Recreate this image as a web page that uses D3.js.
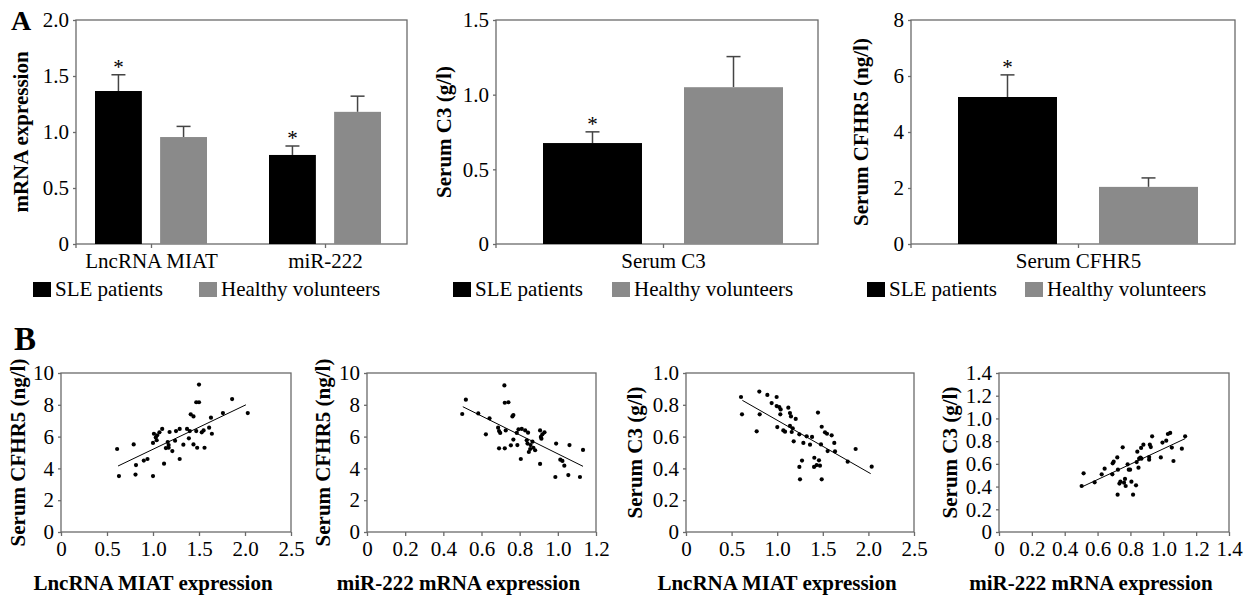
<!DOCTYPE html>
<html>
<head>
<meta charset="utf-8">
<script src="https://cdn.jsdelivr.net/npm/d3@7"></script>
<style>
  html, body { margin: 0; padding: 0; background: #fff; }
  svg { display: block; }
  text { font-family: 'Liberation Serif', 'Times New Roman', serif; fill: #000; }
</style>
</head>
<body>
<svg id="chart" width="1253" height="597"></svg>
<script>
// ---- panel A data (mean and upper error) ----
const groups = ['LncRNA MIAT', 'miR-222']
const seriesNames = ['SLE patients', 'Healthy volunteers']
const seriesColors = ['#000000', '#8a8a8a']

const mrnaSLE = [1.366, 0.795]
const mrnaSLESd = [0.145, 0.08]
const mrnaHealthy = [0.955, 1.18]
const mrnaHealthySd = [0.095, 0.14]

const c3SLE = [0.676]
const c3SLESd = [0.075]
const c3Healthy = [1.05]
const c3HealthySd = [0.205]

const cfhr5SLE = [5.25]
const cfhr5SLESd = [0.79]
const cfhr5Healthy = [2.04]
const cfhr5HealthySd = [0.32]

// ---- panel B data ----
const miatVsCfhr5 = [
  [0.61, 5.22], [0.63, 3.52], [0.79, 5.51], [0.815, 4.21], [0.81, 3.61], [0.9, 4.49],
  [0.94, 4.59], [1.0, 5.6], [1.0, 3.52], [1.01, 6.18], [1.03, 5.95], [1.04, 5.77],
  [1.045, 6.08], [1.07, 6.27], [1.1, 6.48], [1.12, 4.3], [1.14, 5.28], [1.16, 5.66],
  [1.17, 5.47], [1.17, 5.3], [1.18, 6.29], [1.21, 5.09], [1.24, 5.74], [1.25, 6.35],
  [1.29, 6.48], [1.29, 4.59], [1.33, 5.49], [1.37, 6.48], [1.39, 5.89], [1.4, 6.35],
  [1.41, 7.4], [1.44, 7.27], [1.44, 5.51], [1.47, 8.16], [1.47, 6.35], [1.48, 5.3],
  [1.5, 9.27], [1.5, 8.16], [1.53, 6.27], [1.55, 6.39], [1.56, 5.3], [1.61, 6.56],
  [1.63, 7.19], [1.64, 6.18], [1.76, 7.48], [1.86, 8.36], [2.03, 7.48]
]
const miatVsCfhr5Fit = [[0.62, 4.15], [2.01, 8.0]]

const mir222VsCfhr5 = [
  [0.499, 7.42], [0.518, 8.32], [0.583, 7.46], [0.623, 6.14], [0.642, 7.15], [0.687, 6.56],
  [0.692, 6.35], [0.698, 6.23], [0.692, 5.26], [0.72, 9.22], [0.722, 8.13], [0.741, 8.16],
  [0.727, 6.39], [0.722, 5.26], [0.754, 5.45], [0.762, 7.27], [0.767, 7.36], [0.767, 5.81],
  [0.785, 6.23], [0.788, 5.47], [0.794, 6.46], [0.806, 4.59], [0.811, 6.48], [0.829, 6.39],
  [0.837, 5.77], [0.844, 6.25], [0.841, 5.56], [0.848, 5.03], [0.855, 5.22], [0.857, 5.47],
  [0.867, 5.68], [0.872, 5.3], [0.881, 5.14], [0.907, 6.39], [0.911, 5.98], [0.914, 5.87],
  [0.919, 6.14], [0.93, 6.27], [0.907, 4.28], [0.991, 5.56], [0.987, 3.46], [1.013, 4.55],
  [1.024, 4.47], [1.034, 4.17], [1.055, 3.58], [1.061, 5.47], [1.116, 3.46], [1.132, 5.16]
]
const mir222VsCfhr5Fit = [[0.502, 7.88], [1.132, 4.13]]

const miatVsC3 = [
  [0.603, 0.849], [0.614, 0.74], [0.775, 0.633], [0.804, 0.883], [0.808, 0.74], [0.892, 0.862],
  [0.939, 0.811], [0.994, 0.849], [0.994, 0.792], [1.001, 0.66], [1.023, 0.786], [1.038, 0.771],
  [1.034, 0.74], [1.067, 0.639], [1.086, 0.631], [1.122, 0.782], [1.14, 0.748], [1.151, 0.727],
  [1.14, 0.667], [1.159, 0.629], [1.17, 0.652], [1.181, 0.57], [1.203, 0.711], [1.243, 0.614],
  [1.243, 0.409], [1.25, 0.331], [1.272, 0.449], [1.287, 0.56], [1.323, 0.602], [1.36, 0.549],
  [1.382, 0.598], [1.407, 0.467], [1.404, 0.409], [1.433, 0.421], [1.447, 0.751], [1.458, 0.451],
  [1.469, 0.417], [1.48, 0.551], [1.488, 0.662], [1.488, 0.331], [1.524, 0.627], [1.546, 0.618],
  [1.553, 0.509], [1.597, 0.608], [1.626, 0.56], [1.634, 0.507], [1.773, 0.442], [1.86, 0.522],
  [2.036, 0.411]
]
const miatVsC3Fit = [[0.618, 0.828], [2.025, 0.367]]

const mir222VsC3 = [
  [0.503, 0.405], [0.515, 0.517], [0.582, 0.437], [0.625, 0.508], [0.643, 0.558], [0.69, 0.508],
  [0.692, 0.605], [0.698, 0.619], [0.72, 0.657], [0.724, 0.549], [0.722, 0.329], [0.733, 0.426],
  [0.739, 0.443], [0.753, 0.746], [0.761, 0.434], [0.767, 0.467], [0.771, 0.405], [0.783, 0.596],
  [0.79, 0.549], [0.798, 0.549], [0.806, 0.443], [0.816, 0.329], [0.834, 0.411], [0.838, 0.616],
  [0.842, 0.707], [0.849, 0.566], [0.853, 0.646], [0.861, 0.655], [0.867, 0.646], [0.865, 0.74],
  [0.879, 0.769], [0.914, 0.637], [0.914, 0.66], [0.918, 0.769], [0.924, 0.748], [0.932, 0.842],
  [0.985, 0.657], [0.995, 0.787], [1.018, 0.804], [1.028, 0.863], [1.042, 0.872], [1.052, 0.743],
  [1.062, 0.625], [1.113, 0.734], [1.133, 0.842]
]
const mir222VsC3Fit = [[0.503, 0.396], [1.133, 0.822]]

const AXIS = '#6a6a6a'
const svg = d3.select('#chart')

function fmtTick(d) {
  if (d === 0) return '0'
  return Number.isInteger(d) && !this.decimals ? String(d) : d3.format('.1f')(d)
}

function frame(g, p) {
  g.append('rect')
    .attr('x', p.l).attr('y', p.t)
    .attr('width', p.r - p.l).attr('height', p.b - p.t)
    .attr('fill', 'none').attr('stroke', AXIS).attr('stroke-width', 1.3)
}

function styleAxis(sel) {
  sel.select('.domain').remove()
  sel.selectAll('line').attr('stroke', AXIS).attr('stroke-width', 1.3)
  sel.selectAll('text').attr('font-size', 21).attr('fill', '#000')
    .attr('font-family', "'Liberation Serif', serif")
}

function barPanel(cfg) {
  const g = svg.append('g')
  const p = cfg.plot
  const y = d3.scaleLinear().domain(cfg.yDomain).range([p.b, p.t])
  const x = d3.scalePoint().domain(cfg.cats).range(cfg.catRange).padding(cfg.catPad)
  const inner = d3.scaleBand().domain(seriesNames)
    .range([-cfg.groupHalf, cfg.groupHalf]).paddingInner(cfg.padInner)

  frame(g, p)

  const rows = []
  cfg.cats.forEach((c, i) => {
    seriesNames.forEach((s, j) => {
      rows.push({ cat: c, series: s, j, mean: cfg.means[j][i], sd: cfg.sds[j][i] })
    })
  })

  const bars = g.selectAll('g.bar').data(rows).join('g')
    .attr('transform', (d) => `translate(${x(d.cat) + inner(d.series)},0)`)

  bars.append('line')
    .attr('x1', inner.bandwidth() / 2).attr('x2', inner.bandwidth() / 2)
    .attr('y1', (d) => y(d.mean)).attr('y2', (d) => y(d.mean + d.sd))
    .attr('stroke', '#444').attr('stroke-width', 1.5)
  bars.append('line')
    .attr('x1', inner.bandwidth() / 2 - cfg.cap).attr('x2', inner.bandwidth() / 2 + cfg.cap)
    .attr('y1', (d) => y(d.mean + d.sd)).attr('y2', (d) => y(d.mean + d.sd))
    .attr('stroke', '#444').attr('stroke-width', 1.5)
  bars.append('rect')
    .attr('x', 0).attr('width', inner.bandwidth())
    .attr('y', (d) => y(d.mean)).attr('height', (d) => y(0) - y(d.mean))
    .attr('fill', (d) => seriesColors[d.j])
  bars.filter((d) => d.j === 0).append('text')
    .attr('x', inner.bandwidth() / 2).attr('y', (d) => y(d.mean + d.sd) - 1)
    .attr('text-anchor', 'middle').attr('font-size', 21).text('*')

  g.append('g').attr('transform', `translate(${p.l},0)`)
    .call(d3.axisLeft(y).tickValues(cfg.yTicks).tickSize(3).tickPadding(4)
      .tickFormat((d) => (d === 0 ? '0' : cfg.yFmt(d))))
    .call(styleAxis)
  g.append('g').attr('transform', `translate(0,${p.b})`)
    .call(d3.axisBottom(x).tickSize(4).tickPadding(5))
    .call(styleAxis)
  g.append('line').attr('x1', p.l).attr('x2', p.l).attr('y1', p.b).attr('y2', p.b + 4)
    .attr('stroke', AXIS).attr('stroke-width', 1.3)

  g.append('text')
    .attr('transform', `translate(${cfg.yTitleX},${(p.t + p.b) / 2}) rotate(-90)`)
    .attr('text-anchor', 'middle').attr('dy', '0.35em')
    .attr('font-size', 21).attr('font-weight', 'bold').text(cfg.yTitle)

  const leg = g.selectAll('g.leg').data(seriesNames).join('g')
    .attr('transform', (d, i) => `translate(${cfg.legendX[i]},282)`)
  leg.append('rect').attr('width', 18).attr('height', 15)
    .attr('fill', (d, i) => seriesColors[i])
  leg.append('text').attr('x', 22).attr('y', 14).attr('font-size', 21).text((d) => d)
}

function scatterPanel(cfg) {
  const g = svg.append('g')
  const p = cfg.plot
  const x = d3.scaleLinear().domain(cfg.xDomain).range([p.l, p.r])
  const y = d3.scaleLinear().domain(cfg.yDomain).range([p.b, p.t])

  frame(g, p)

  g.append('g').attr('transform', `translate(${p.l},0)`)
    .call(d3.axisLeft(y).tickValues(cfg.yTicks).tickSize(3).tickPadding(4)
      .tickFormat((d) => (d === 0 ? '0' : cfg.yFmt(d))))
    .call(styleAxis)
  g.append('g').attr('transform', `translate(0,${p.b})`)
    .call(d3.axisBottom(x).tickValues(cfg.xTicks).tickSize(4).tickPadding(5)
      .tickFormat((d) => (d === 0 ? '0' : cfg.xFmt(d))))
    .call(styleAxis)

  g.append('line')
    .attr('x1', x(cfg.fit[0][0])).attr('y1', y(cfg.fit[0][1]))
    .attr('x2', x(cfg.fit[1][0])).attr('y2', y(cfg.fit[1][1]))
    .attr('stroke', '#000').attr('stroke-width', 1)

  g.selectAll('circle').data(cfg.data).join('circle')
    .attr('cx', (d) => x(d[0])).attr('cy', (d) => y(d[1])).attr('r', 2.1)
    .attr('fill', '#000')

  g.append('text')
    .attr('transform', `translate(${cfg.yTitleX},${(p.t + p.b) / 2}) rotate(-90)`)
    .attr('text-anchor', 'middle').attr('dy', '0.35em')
    .attr('font-size', 21).attr('font-weight', 'bold').text(cfg.yTitle)
  g.append('text')
    .attr('x', (p.l + p.r) / 2 - 23).attr('y', 590)
    .attr('text-anchor', 'middle')
    .attr('font-size', 21).attr('font-weight', 'bold').text(cfg.xTitle)
}

const f1 = d3.format('.1f')
const f0 = d3.format('d')

barPanel({
  plot: { l: 76, r: 407, t: 20, b: 244 },
  cats: groups, catRange: [72, 404], catPad: 0.454,
  groupHalf: 56, padInner: 0.28, cap: 7,
  means: [mrnaSLE, mrnaHealthy], sds: [mrnaSLESd, mrnaHealthySd],
  yDomain: [0, 2], yTicks: [0, 0.5, 1, 1.5, 2], yFmt: f1,
  yTitle: 'mRNA expression', yTitleX: 21, legendX: [33, 199]
})
barPanel({
  plot: { l: 496, r: 818, t: 20, b: 244 },
  cats: ['Serum C3'], catRange: [508, 818], catPad: 0.5,
  groupHalf: 120, padInner: 0.298, cap: 7,
  means: [c3SLE, c3Healthy], sds: [c3SLESd, c3HealthySd],
  yDomain: [0, 1.5], yTicks: [0, 0.5, 1, 1.5], yFmt: f1,
  yTitle: 'Serum C3 (g/l)', yTitleX: 444, legendX: [453, 612]
})
barPanel({
  plot: { l: 911, r: 1235, t: 20, b: 244 },
  cats: ['Serum CFHR5'], catRange: [921, 1235], catPad: 0.5,
  groupHalf: 120, padInner: 0.298, cap: 7,
  means: [cfhr5SLE, cfhr5Healthy], sds: [cfhr5SLESd, cfhr5HealthySd],
  yDomain: [0, 8], yTicks: [0, 2, 4, 6, 8], yFmt: f0,
  yTitle: 'Serum CFHR5 (ng/l)', yTitleX: 861, legendX: [867, 1025]
})

scatterPanel({
  plot: { l: 61, r: 291, t: 373, b: 532 },
  data: miatVsCfhr5, fit: miatVsCfhr5Fit,
  xDomain: [0, 2.5], xTicks: [0, 0.5, 1, 1.5, 2, 2.5], xFmt: f1,
  yDomain: [0, 10], yTicks: [0, 2, 4, 6, 8, 10], yFmt: f0,
  yTitle: 'Serum CFHR5 (ng/l)', yTitleX: 18, xTitle: 'LncRNA MIAT expression'
})
scatterPanel({
  plot: { l: 367, r: 596, t: 373, b: 532 },
  data: mir222VsCfhr5, fit: mir222VsCfhr5Fit,
  xDomain: [0, 1.2], xTicks: [0, 0.2, 0.4, 0.6, 0.8, 1.0, 1.2], xFmt: f1,
  yDomain: [0, 10], yTicks: [0, 2, 4, 6, 8, 10], yFmt: f0,
  yTitle: 'Serum CFHR5 (ng/l)', yTitleX: 323, xTitle: 'miR-222 mRNA expression'
})
scatterPanel({
  plot: { l: 686, r: 914, t: 373, b: 532 },
  data: miatVsC3, fit: miatVsC3Fit,
  xDomain: [0, 2.5], xTicks: [0, 0.5, 1, 1.5, 2, 2.5], xFmt: f1,
  yDomain: [0, 1], yTicks: [0, 0.2, 0.4, 0.6, 0.8, 1.0], yFmt: f1,
  yTitle: 'Serum C3 (g/l)', yTitleX: 635, xTitle: 'LncRNA MIAT expression'
})
scatterPanel({
  plot: { l: 999, r: 1229, t: 373, b: 532 },
  data: mir222VsC3, fit: mir222VsC3Fit,
  xDomain: [0, 1.4], xTicks: [0, 0.2, 0.4, 0.6, 0.8, 1.0, 1.2, 1.4], xFmt: f1,
  yDomain: [0, 1.4], yTicks: [0, 0.2, 0.4, 0.6, 0.8, 1.0, 1.2, 1.4], yFmt: f1,
  yTitle: 'Serum C3 (g/l)', yTitleX: 950, xTitle: 'miR-222 mRNA expression'
})

// panel letters
svg.append('text').attr('x', 11).attr('y', 30)
  .attr('font-size', 28).attr('font-weight', 'bold').text('A')
svg.append('text').attr('x', 14).attr('y', 350)
  .attr('font-size', 33).attr('font-weight', 'bold').text('B')
</script>
</body>
</html>
